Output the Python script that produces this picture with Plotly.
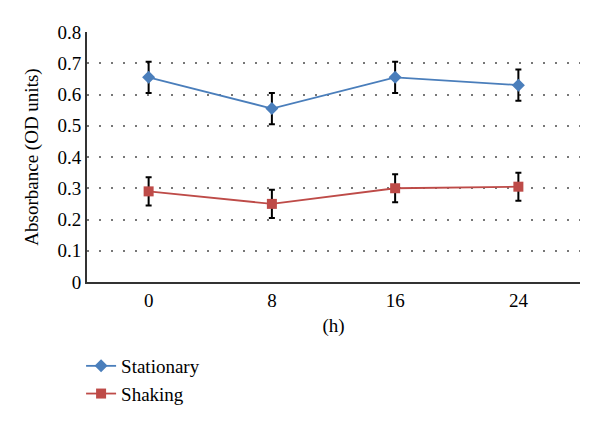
import plotly.graph_objects as go

hours = ["0", "8", "16", "24"]
stationary = [0.655, 0.555, 0.655, 0.630]
stationary_err = [0.05, 0.05, 0.05, 0.05]
shaking = [0.290, 0.250, 0.300, 0.305]
shaking_err = [0.045, 0.045, 0.045, 0.045]
y_ticks = [0, 0.1, 0.2, 0.3, 0.4, 0.5, 0.6, 0.7, 0.8]
y_labels = ["0", "0.1", "0.2", "0.3", "0.4", "0.5", "0.6", "0.7", "0.8"]

FONT = "Liberation Serif"
FS = 19

fig = go.Figure()
fig.add_trace(go.Scatter(
    x=hours, y=stationary, name="Stationary", mode="lines+markers",
    line=dict(color="#4a7ebb", width=1.8),
    marker=dict(symbol="diamond", size=10, color="#4a7ebb"),
    error_y=dict(type="data", array=stationary_err, color="black", thickness=2, width=3),
))
fig.add_trace(go.Scatter(
    x=hours, y=shaking, name="Shaking", mode="lines+markers",
    line=dict(color="#be4b48", width=1.8),
    marker=dict(symbol="square", size=10, color="#be4b48"),
    error_y=dict(type="data", array=shaking_err, color="black", thickness=2, width=3),
))

fig.update_layout(
    width=592, height=419,
    margin=dict(l=79, r=20, t=24, b=145, autoexpand=False),
    paper_bgcolor="white", plot_bgcolor="white",
    font=dict(family=FONT, size=FS, color="black"),
    showlegend=True,
    legend=dict(x=-0.012, y=-0.26, xanchor="left", yanchor="top",
                font=dict(family=FONT, size=FS), tracegroupgap=0,
                itemwidth=30, bgcolor="rgba(0,0,0,0)"),
    xaxis=dict(
        type="category", range=[-0.5, 3.5], automargin=False,
        showline=True, linecolor="#333", linewidth=2,
        showgrid=False, ticks="", ticklen=0,
        title=dict(text="(h)", standoff=9, font=dict(family=FONT, size=FS)),
        tickfont=dict(family=FONT, size=FS),
    ),
    yaxis=dict(
        range=[0, 0.8], tickvals=y_ticks, ticktext=y_labels, automargin=False,
        showline=True, linecolor="#333", linewidth=2,
        showgrid=True, gridcolor="#777", griddash="2px,10px", gridwidth=1.5,
        zeroline=False, ticks="",
        title=dict(text="Absorbance (OD units)", standoff=14, font=dict(family=FONT, size=FS)),
        tickfont=dict(family=FONT, size=FS),
    ),
)

fig.write_html("out.html")
